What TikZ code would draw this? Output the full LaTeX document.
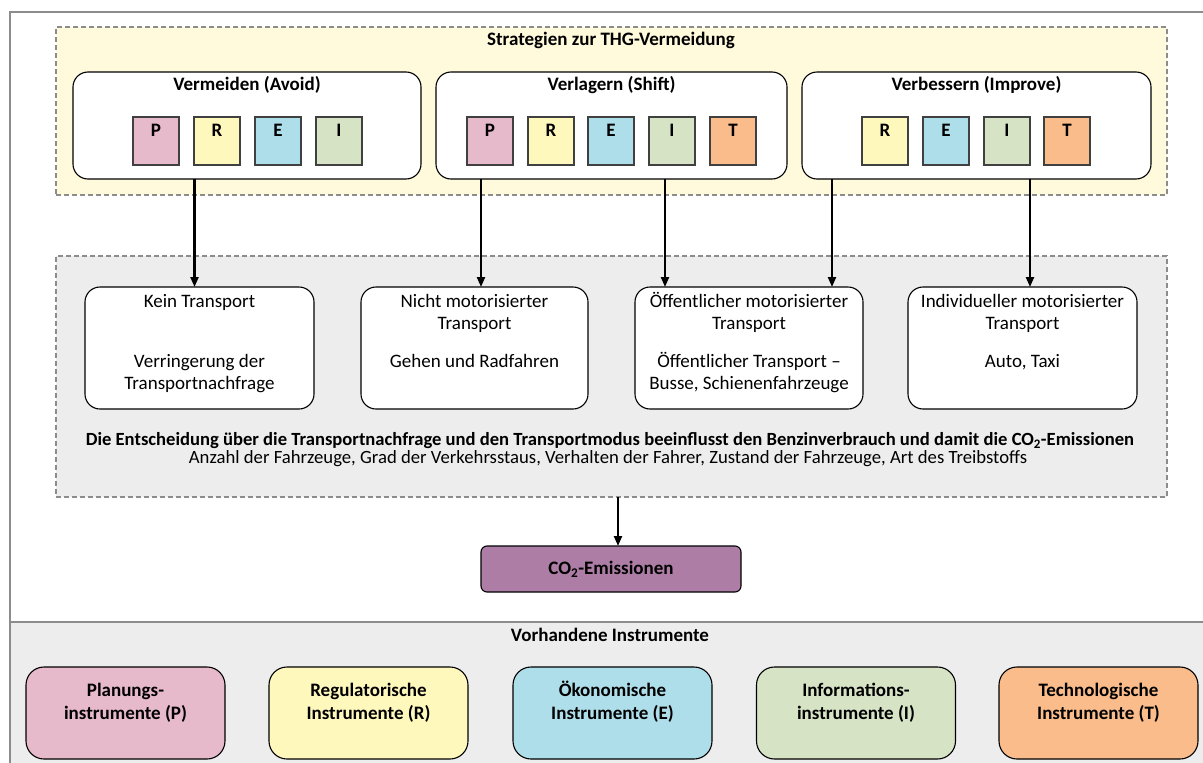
\documentclass[tikz,border=0pt]{standalone}
\usepackage{fontspec}
\setmainfont{Carlito}
\usetikzlibrary{arrows.meta}
\definecolor{planP}{HTML}{E6B9CB}
\definecolor{regR}{HTML}{FFF8BC}
\definecolor{econE}{HTML}{ADDEEA}
\definecolor{infoI}{HTML}{D6E3C5}
\definecolor{techT}{HTML}{F9BC8A}
\definecolor{coviolet}{HTML}{AD7DA6}
\definecolor{stratbg}{HTML}{FFFADC}
\definecolor{panelbg}{HTML}{EDEDED}
\definecolor{framegray}{HTML}{8C8C8C}
\begin{document}
\begin{tikzpicture}[x=1pt,y=-1pt,font=\fontsize{19}{22}\selectfont,
    groupbox/.style={draw=framegray,line width=1.5pt,dash pattern=on 5pt off 3pt,inner sep=0pt,outer sep=0pt},
    stratbox/.style={draw,fill=white,line width=1.1pt,rounded corners=15pt,inner sep=0pt,outer sep=0pt,minimum height=107pt},
    boldtext/.style={font=\fontsize{19}{22}\selectfont\bfseries},
    letterbox/.style={draw=black!75,line width=1.1pt,inner sep=0pt,outer sep=0pt,minimum width=46pt,text height=19pt,text depth=29pt,boldtext},
    modebox/.style={draw,fill=white,line width=1.1pt,rounded corners=15pt,inner sep=0pt,outer sep=0pt,minimum width=228pt,minimum height=122pt},
    modetext/.style={anchor=north,align=center,inner sep=0pt},
    instbox/.style={draw,line width=1.1pt,rounded corners=18pt,inner sep=0pt,outer sep=0pt,minimum width=199pt,minimum height=92pt},
    insttext/.style={anchor=north,align=center,inner sep=0pt,font=\fontsize{19}{23}\selectfont\bfseries},
    arr/.style={-{Triangle[length=10pt,width=8pt]},line width=2.2pt}]
    \useasboundingbox (0,0) rectangle (1203,763);
    \fill[panelbg] (10,622) rectangle (1203,763);
    \draw[framegray,line width=1.2pt] (10,763) -- (10,12) -- (1203,12);
    \draw[framegray,line width=1.2pt] (10,622) -- (1203,622);
    \node[groupbox,fill=stratbg,minimum width=1111pt,minimum height=168pt] (strat) at (611.5,111) {};
    \node[boldtext] (stratt) at (611,40) {Strategien zur THG-Vermeidung};
    \node[stratbox,minimum width=348pt] (avoid) at (247,125.5) {};
    \node[stratbox,minimum width=351pt] (shift) at (611.5,125.5) {};
    \node[stratbox,minimum width=349pt] (improve) at (976.5,125.5) {};
    \node[boldtext] (avoidt) at (247,85) {Vermeiden (Avoid)};
    \node[boldtext] (shiftt) at (611.5,85) {Verlagern (Shift)};
    \node[boldtext] (improvet) at (976.5,85) {Verbessern (Improve)};
    \foreach \l/\c/\x in {P/planP/156,R/regR/217,E/econE/278,I/infoI/339}
      \node[letterbox,fill=\c] (avoid\l) at (\x,141) {\l};
    \foreach \l/\c/\x in {P/planP/490,R/regR/551,E/econE/611,I/infoI/672,T/techT/733}
      \node[letterbox,fill=\c] (shift\l) at (\x,141) {\l};
    \foreach \l/\c/\x in {R/regR/885,E/econE/946,I/infoI/1007,T/techT/1067}
      \node[letterbox,fill=\c] (improve\l) at (\x,141) {\l};
    \node[groupbox,fill=panelbg,minimum width=1111pt,minimum height=241pt] (modes) at (611.5,376.5) {};
    \node[modebox,minimum width=229pt] (kein) at (199.5,348) {};
    \node[modebox,minimum width=227pt] (nicht) at (474.5,348) {};
    \node[modebox] (oeff) at (749,348) {};
    \node[modebox,minimum width=229pt] (indiv) at (1022.5,348) {};
    \node[modetext] (keint) at (199.5,292) {\vphantom{Ö}Kein Transport\\[38pt]Verringerung der\\Transportnachfrage};
    \node[modetext] (nichtt) at (474.5,292) {\vphantom{Ö}Nicht motorisierter\\Transport\\[16pt]Gehen und Radfahren};
    \node[modetext] (oefft) at (749,292) {Öffentlicher motorisierter\\Transport\\[16pt]Öffentlicher Transport --\\Busse, Schienenfahrzeuge};
    \node[modetext] (indivt) at (1022.5,292) {\vphantom{Ö}Individueller motorisierter\\Transport\\[16pt]Auto, Taxi};
    \node[font=\fontsize{18.6}{22}\selectfont\bfseries] (decision) at (610,441) {Die Entscheidung über die Transportnachfrage und den Transportmodus beeinflusst den Benzinverbrauch und damit die CO\textsubscript{2}-Emissionen};
    \node[font=\fontsize{18.7}{22}\selectfont] (factors) at (608,459) {Anzahl der Fahrzeuge, Grad der Verkehrsstaus, Verhalten der Fahrer, Zustand der Fahrzeuge, Art des Treibstoffs};
    \node[draw,fill=coviolet,line width=1.1pt,rounded corners=6pt,minimum width=260pt,minimum height=46pt,inner sep=0pt,outer sep=0pt,boldtext] (co2) at (611,569) {CO\textsubscript{2}-Emissionen};
    \node[boldtext] (instt) at (610,635) {Vorhandene Instrumente};
    \foreach \n/\c/\x/\t in {P/planP/125.5/{\vphantom{Ö}Planungs-\\instrumente (P)},R/regR/368.5/{\vphantom{Ö}Regulatorische\\Instrumente (R)},E/econE/612.5/{Ökonomische\\Instrumente (E)},I/infoI/856/{\vphantom{Ö}Informations-\\instrumente (I)},T/techT/1098.5/{\vphantom{Ö}Technologische\\Instrumente (T)}}{
      \node[instbox,fill=\c] (inst\n) at (\x,713) {};
      \node[insttext] (inst\n t) at (\x,681) {\t};
    }
    \draw[arr] ([xshift=-5pt]kein.north |- avoid.south) -- ([xshift=-5pt]kein.north);
    \draw[arr] ([xshift=6.5pt]nicht.north |- shift.south) -- ([xshift=6.5pt]nicht.north);
    \draw[arr] ([xshift=30pt]oeff.north west |- shift.south) -- ([xshift=30pt]oeff.north west);
    \draw[arr] ([xshift=-31pt]oeff.north east |- improve.south) -- ([xshift=-31pt]oeff.north east);
    \draw[arr] ([xshift=7.5pt]indiv.north |- improve.south) -- ([xshift=7.5pt]indiv.north);
    \draw[arr] ([xshift=7pt]co2.north |- modes.south) -- ([xshift=7pt]co2.north);
\end{tikzpicture}
\end{document}
